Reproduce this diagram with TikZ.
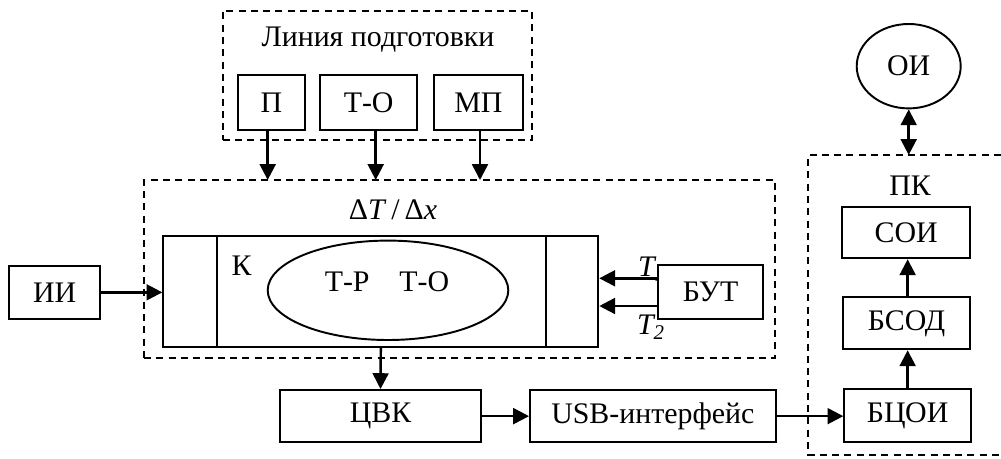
\documentclass[tikz,border=0pt]{standalone}
\usepackage{fontspec}
\setmainfont{Liberation Serif}
\usetikzlibrary{arrows.meta,calc,shapes.geometric}
\newcommand\mybox[6][]{\node[box,#1,minimum width={(#4-#2)*0.02cm},minimum height={(#5-#3)*0.02cm}] (#6) at ({(#2+#4)/2},{(#3+#5)/2})}
\begin{document}
\begin{tikzpicture}[x=0.02cm,y=-0.02cm,
  box/.style={draw,line width=1.1pt,inner sep=0pt,fill=white,font=\fontsize{17}{20}\selectfont},
  dbox/.style={box,fill=none,dash pattern=on 4pt off 3pt,line width=1pt},
  arr/.style={line width=1.4pt,-{Triangle[length=9pt,width=9pt]}},
  darr/.style={line width=1.4pt,{Triangle[length=9pt,width=9pt]}-{Triangle[length=9pt,width=9pt]}},
  lbl/.style={font=\fontsize{17}{20}\selectfont,inner sep=0pt}]
\useasboundingbox (0,0) rectangle (1001,459);
% preparation line
\mybox[dbox]{222.7}{10.7}{532.3}{140}{line} {};
\node[lbl] (linelbl) at (378,40) {Линия подготовки};
\mybox{237.7}{75.3}{305}{130}{P} {П};
\mybox{320}{75.3}{417.3}{130}{TO} {Т-О};
\mybox{434.3}{75.3}{522.7}{130}{MP} {МП};
% chamber group
\mybox[dbox]{144}{180}{775.3}{357.7}{cam} {};
\node[lbl] (dtdx) at (393,210) {Δ\textit{T}\,/\,Δ\textit{x}};
\mybox{163.3}{236}{598.3}{346.7}{K} {};
\draw[line width=1.1pt] (216.7,236) -- (216.7,346.7) (546,236) -- (546,346.7);
\node[lbl] (Klbl) at (241.7,266) {К};
\node[draw,ellipse,line width=1.1pt,minimum width=240.6*0.02cm,minimum height=99.4*0.02cm,inner sep=0pt] (ell) at (388,290.3) {};
\node[lbl] (trto) at (387,281.7) {Т-Р\hspace{1em}Т-О};
% left source
\mybox{9.3}{266}{100}{318.7}{II} {ИИ};
% temperature block
\node[lbl,font=\fontsize{17}{20}\selectfont\itshape] (T1) at (652,269) {T\textsubscript{1}};
\mybox{658.3}{265}{762.7}{319}{BUT} {БУТ};
\node[lbl,font=\fontsize{17}{20}\selectfont\itshape] (T2) at (651,327) {T\textsubscript{2}};
% bottom chain
\mybox{280}{390}{481}{442.3}{CVK} {ЦВК};
\mybox{530}{390}{775.7}{442.3}{USB} {USB-интерфейс};
\mybox{844.3}{389.3}{971}{441.7}{BCOI} {БЦОИ};
\mybox{843.3}{297.3}{970}{349.3}{BSOD} {БСОД};
\mybox{842.3}{206.7}{970}{258.3}{SOI} {СОИ};
% PC
\draw[dash pattern=on 4pt off 3pt,line width=1pt] (1001,155) -- (808.3,155) -- (808.3,455) -- (1001,455);
\coordinate (pktop) at (909,155);
\node[lbl] (PK) at (910,186) {ПК};
\node[draw,ellipse,line width=1.1pt,minimum width=104*0.02cm,minimum height=84.4*0.02cm,inner sep=0pt,font=\fontsize{17}{20}\selectfont] (OI) at (908.7,66.2) {ОИ};
% connectors
\draw[arr] (P.south -| 267.7,0) -- (267.7,180);
\draw[arr] (TO.south -| 375.7,0) -- (375.7,180);
\draw[arr] (MP.south -| 480,0) -- (480,180);
\draw[arr] (II.east) -- (II.east -| K.west);
\draw[arr] ($(BUT.west)+(0,-13.7)$) -- ($(BUT.west -| K.east)+(0,-13.7)$);
\draw[arr] ($(BUT.west)+(0,14)$) -- ($(BUT.west -| K.east)+(0,14)$);
\draw[arr] (K.south) -- (CVK.north);
\draw[arr] (CVK.east) -- (USB.west);
\draw[arr] (USB.east) -- (USB.east -| BCOI.west);
\draw[arr] (BCOI.north) -- (BCOI.north |- BSOD.south);
\draw[arr] (BSOD.north -| BCOI.north) -- (BCOI.north |- SOI.south);
\draw[darr] (OI.south) -- (OI.south |- pktop);
\end{tikzpicture}
\end{document}
